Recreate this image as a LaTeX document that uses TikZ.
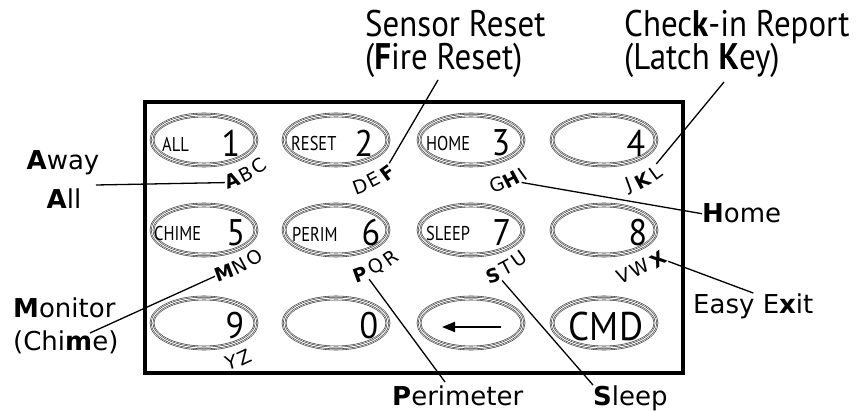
\documentclass[tikz,border=0pt]{standalone}
\usepackage{fontspec}
\setmainfont{DejaVu Sans}
\newfontfamily\keyfont{PT Sans}[FakeStretch=0.82]
\newfontfamily\digitfont{PT Sans}[FakeStretch=0.92]
\newfontfamily\topfont{PT Sans}[FakeStretch=0.89]
\usetikzlibrary{shapes.geometric,arrows.meta}
\begin{document}
\begin{tikzpicture}[x=1pt,y=-1pt,
  lab/.style={font=\fontsize{26}{30}\selectfont, inner sep=0pt},
  toplab/.style={font=\topfont\fontsize{37}{40}\selectfont, inner sep=0pt, anchor=base west},
  ltr/.style={font=\fontsize{19}{22}\selectfont, inner sep=0pt},
  keyo/.style={ellipse, minimum width=104pt, minimum height=50pt, inner sep=0pt,
    preaction={draw=black!80, line width=4.6pt},
    preaction={draw=white, line width=3.4pt},
    preaction={draw=black!80, line width=2.2pt},
    draw=white, line width=1.0pt},
  keylab/.style={font=\keyfont\fontsize{20}{22}\selectfont, inner sep=0pt, anchor=west},
  keynum/.style={font=\digitfont\fontsize{37}{40}\selectfont, inner sep=0pt},
  lead/.style={line width=1.3pt},
  frame/.style={line width=4pt}]
\useasboundingbox (0,0) rectangle (856,411);

% frame
\draw[frame] (145,102) rectangle (683,373);

% keys
\node[keyo] (k1) at (204,140) {};
\node[keyo] (k2) at (336,140) {};
\node[keyo] (k3) at (471,140) {};
\node[keyo] (k4) at (604,140) {};
\node[keyo] (k5) at (204,230) {};
\node[keyo] (k6) at (336,230) {};
\node[keyo] (k7) at (471,230) {};
\node[keyo] (k8) at (604,230) {};
\node[keyo] (k9) at (204,323) {};
\node[keyo] (k0) at (336,323) {};
\node[keyo] (kb) at (471,323) {};
\node[keyo] (kc) at (604,323) {};

% key texts
\node[keylab] (t1) at (162,144) {ALL};
\node[keynum] (n1) at (231,143) {1};
\node[keylab] (t2) at (291,144) {RESET};
\node[keynum] (n2) at (364,143) {2};
\node[keylab] (t3) at (426,144) {HOME};
\node[keynum] (n3) at (501,143) {3};
\node[keynum] (n4) at (636,143) {4};
\node[keylab] (t5) at (154,234) {CHIME};
\node[keynum] (n5) at (236,233) {5};
\node[keylab] (t6) at (292,234) {PERIM};
\node[keynum] (n6) at (371,233) {6};
\node[keylab] (t7) at (426,234) {SLEEP};
\node[keynum] (n7) at (502,233) {7};
\node[keynum] (n8) at (638,233) {8};
\node[keynum] (n9) at (235,326) {9};
\node[keynum] (n0) at (369,326) {0};
\node[keynum, font=\digitfont\fontsize{40}{42}\selectfont] (nc) at (606,326) {CMD};
\coordinate (arrs) at (501,327);
\coordinate (arre) at (442,327);
\draw[line width=2pt, -{Triangle[length=13pt,width=10pt]}] (arrs) -- (arre);

% key letters
\node[ltr, rotate=20] (lA) at (232,180) {\textbf{A}};
\node[ltr, rotate=28] (lB) at (246,174) {B};
\node[ltr, rotate=36] (lC) at (259,166) {C};
\node[ltr, rotate=20] (lD) at (360,186) {D};
\node[ltr, rotate=28] (lE) at (374,180) {E};
\node[ltr, rotate=36] (lF) at (388,173) {\textbf{F}};
\node[ltr, rotate=20] (lG) at (497,184) {G};
\node[ltr, rotate=28] (lH) at (511,180) {\textbf{H}};
\node[ltr, rotate=36] (lI) at (523,174) {I};
\node[ltr, rotate=20] (lJ) at (629,186) {J};
\node[ltr, rotate=28] (lK) at (643,181) {\textbf{K}};
\node[ltr, rotate=36] (lL) at (656,173) {L};
\node[ltr, rotate=20] (lM) at (224,273) {\textbf{M}};
\node[ltr, rotate=28] (lN) at (240,266) {N};
\node[ltr, rotate=36] (lO) at (254,258) {O};
\node[ltr, rotate=20] (lP) at (360,275) {\textbf{P}};
\node[ltr, rotate=28] (lQ) at (376,267) {Q};
\node[ltr, rotate=36] (lR) at (391,258) {R};
\node[ltr, rotate=20] (lS) at (493,276) {\textbf{S}};
\node[ltr, rotate=28] (lT) at (506,268) {T};
\node[ltr, rotate=36] (lU) at (519,259) {U};
\node[ltr, rotate=20] (lV) at (623,276) {V};
\node[ltr, rotate=28] (lW) at (640,268) {W};
\node[ltr, rotate=36] (lX) at (658,260) {\textbf{X}};
\node[ltr, rotate=15] (lY) at (231,362) {Y};
\node[ltr, rotate=25] (lZ) at (244,357) {Z};

% outer labels
\node[toplab] (sens) at (365,37) {Sensor Reset};
\node[toplab] (fire) at (365,70) {(\textbf{F}ire Reset)};
\node[toplab] (chk) at (624,37) {Chec\textbf{k}-in Report};
\node[toplab] (latch) at (624,70) {(Latch \textbf{K}ey)};
\node[lab, anchor=base] (away) at (63,170) {\textbf{A}way};
\node[lab, anchor=base] (all) at (64,209) {\textbf{A}ll};
\node[lab, anchor=base west] (mon) at (13,317) {\textbf{M}onitor};
\node[lab, anchor=base west] (chime) at (13,350) {(Chi\textbf{m}e)};
\node[lab, anchor=base west] (home) at (702,223) {\textbf{H}ome};
\node[lab, anchor=base west] (exit) at (693,313) {Easy E\textbf{x}it};
\node[lab, anchor=base west] (perim) at (392,405) {\textbf{P}erimeter};
\node[lab, anchor=base west] (sleep) at (593,405) {\textbf{S}leep};

% leader lines
\coordinate (awayc) at (96,185);
\coordinate (firec) at (438,80);
\coordinate (latchc) at (724,82);
\coordinate (monc) at (90,333);
\coordinate (perc) at (445,382);
\draw[lead] (awayc) -- (lA.west);
\draw[lead] (lF.north east) -- (firec);
\draw[lead] (lL.north east) -- (latchc);
\draw[lead] (lH.south east) -- (home.west);
\draw[lead] (lX.south east) -- (exit.north);
\draw[lead] (lM.west) -- (monc);
\draw[lead] (lP.south east) -- (perc);
\draw[lead] (lS.south east) -- (sleep.north west);
\end{tikzpicture}
\end{document}
